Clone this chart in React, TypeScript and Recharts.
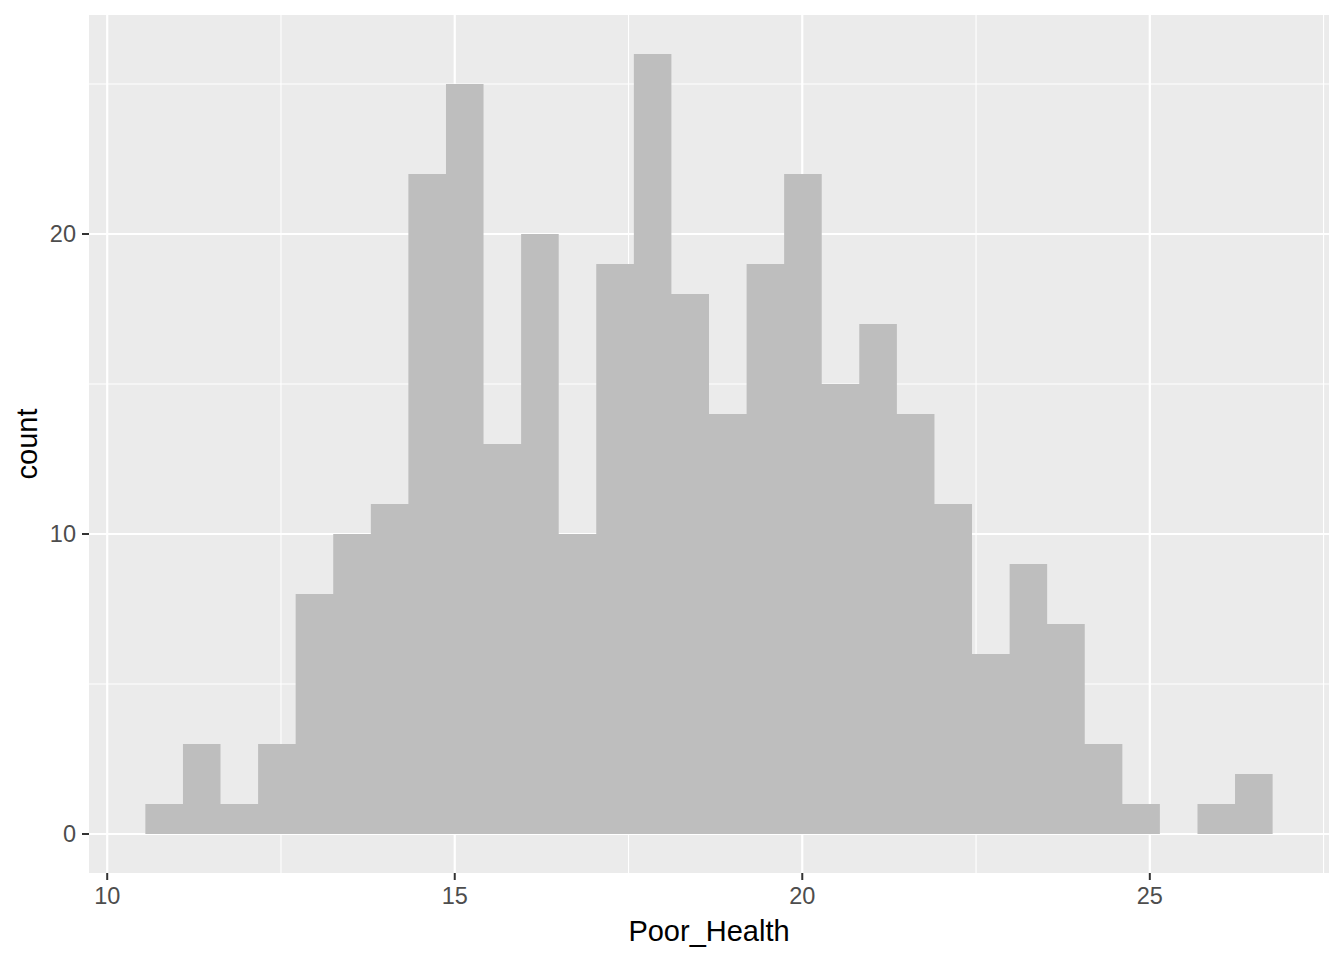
import React from 'react';
import { AreaChart, Area, XAxis, YAxis, CartesianGrid } from 'recharts';

// Histogram of Poor_Health (30 bins)
const binEdges = [
  10.549, 11.090, 11.630, 12.171, 12.711, 13.252, 13.793, 14.333, 14.874, 15.414,
  15.955, 16.496, 17.036, 17.577, 18.117, 18.658, 19.199, 19.739, 20.280, 20.820,
  21.361, 21.902, 22.442, 22.983, 23.523, 24.064, 24.605, 25.145, 25.686, 26.226,
  26.767,
];
const counts = [
  1, 3, 1, 3, 8, 10, 11, 22, 25, 13,
  20, 10, 19, 26, 18, 14, 19, 22, 15, 17,
  14, 11, 6, 9, 7, 3, 1, 0, 1, 2,
];
const xTicks = [10, 15, 20, 25];
const yTicks = [0, 10, 20];
const xMinor = [12.5, 17.5, 22.5, 27.5];
const yMinor = [5, 15, 25];
const xDomain = [9.738, 27.578];
const yDomain = [-1.3, 27.3];

const data = binEdges.map((x, i) => ({
  x,
  count: counts[Math.min(i, counts.length - 1)],
}));

const W = 1344;
const H = 960;
const FONT = '"Liberation Sans", Arial, Helvetica, sans-serif';

export default function App() {
  return (
    <div style={{ position: 'absolute', left: 0, top: 0, width: W, height: H, background: '#FFFFFF', fontFamily: FONT }}>
      <AreaChart
        width={W}
        height={H}
        data={data}
        margin={{ top: 15, right: 15, bottom: 0, left: 0 }}
      >
        <CartesianGrid
          fill="#EBEBEB"
          stroke="#FFFFFF"
          strokeWidth={1.1}
          horizontalValues={yMinor}
          verticalValues={xMinor}
        />
        <CartesianGrid
          fill="none"
          stroke="#FFFFFF"
          strokeWidth={2.2}
          horizontalValues={yTicks}
          verticalValues={xTicks}
        />
        <XAxis
          dataKey="x"
          type="number"
          domain={xDomain}
          allowDataOverflow
          ticks={xTicks}
          height={87}
          axisLine={false}
          tickLine={{ stroke: '#333333', strokeWidth: 2 }}
          tickSize={7}
          tickMargin={7}
          tick={{ fill: '#4D4D4D', fontSize: 23.5, fontFamily: FONT }}
          label={{ value: 'Poor_Health', position: 'insideBottom', offset: 19, fill: '#000000', fontSize: 29, fontFamily: FONT }}
        />
        <YAxis
          type="number"
          domain={yDomain}
          allowDataOverflow
          ticks={yTicks}
          width={89}
          axisLine={false}
          tickLine={{ stroke: '#333333', strokeWidth: 2 }}
          tickSize={7}
          tickMargin={6}
          tick={{ fill: '#4D4D4D', fontSize: 23.5, fontFamily: FONT }}
        />
        <Area
          dataKey="count"
          type="stepAfter"
          stroke="none"
          fill="#BEBEBE"
          fillOpacity={1}
          isAnimationActive={false}
          dot={false}
          activeDot={false}
        />
      </AreaChart>
      <svg
        width={W}
        height={H}
        style={{ position: 'absolute', left: 0, top: 0, pointerEvents: 'none' }}
      >
        <text
          transform="translate(37,444) rotate(-90)"
          textAnchor="middle"
          fontSize={29}
          fontFamily={FONT}
          fill="#000000"
        >
          count
        </text>
      </svg>
    </div>
  );
}
